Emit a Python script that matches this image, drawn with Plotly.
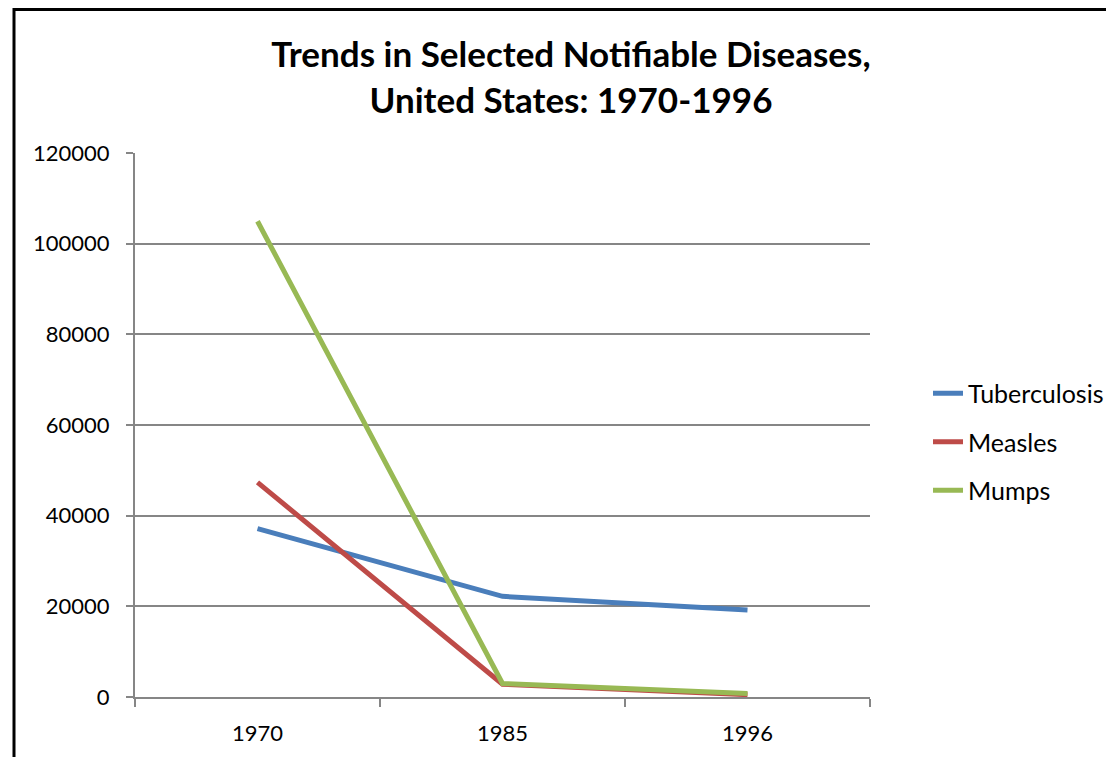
import plotly.graph_objects as go

years = ["1970", "1985", "1996"]
tuberculosis = [37137, 22201, 19200]
measles = [47351, 2822, 508]
mumps = [104953, 2982, 751]
y_ticks = [0, 20000, 40000, 60000, 80000, 100000, 120000]

series = [
    ("Tuberculosis", tuberculosis, "#4A7EBB"),
    ("Measles", measles, "#BE4B48"),
    ("Mumps", mumps, "#98B954"),
]

FONT = "Lato, Carlito, Calibri, sans-serif"

fig = go.Figure()
for name, vals, col in series:
    fig.add_trace(go.Scatter(x=years, y=vals, name=name, mode="lines", legendgroup=name,
                             line=dict(color=col, width=5)))

# page body has an 8px margin; figure coords = screen coords - 8
# figure is wider than the window (overflow hidden) so the legend fits in the right margin
W, H = 1140, 749
L, T = 127, 145
R = W - 862
B = H - 689
pw, ph = W - L - R, H - T - B

fig.update_layout(
    width=W, height=H,
    margin=dict(l=L, r=R, t=T, b=B, pad=0),
    paper_bgcolor="white", plot_bgcolor="white",
    font=dict(family=FONT, size=22, color="black"),
    title=dict(text="<b>Trends in Selected Notifiable Diseases,<br>United States: 1970-1996</b>",
               x=(563) / W, xanchor="center", y=1 - 59 / H, yanchor="middle",
               font=dict(family=FONT, size=35, color="black")),
    showlegend=True,
    legend=dict(x=(920 - L) / pw, xanchor="left", y=(689 - 434) / ph, yanchor="middle",
                font=dict(family=FONT, size=25), tracegroupgap=13, itemwidth=30,
                traceorder="grouped", bgcolor="rgba(0,0,0,0)"),
    xaxis=dict(type="category", range=[-0.5, 2.5], showgrid=False, showline=True,
               linecolor="#868686", linewidth=2, ticks="outside", tickson="boundaries",
               ticklen=8, tickwidth=2, tickcolor="#868686", zeroline=False,
               ticklabelstandoff=16),
    yaxis=dict(range=[0, 120000], tickvals=y_ticks, ticktext=[str(v) for v in y_ticks],
               showgrid=True, gridcolor="#868686", gridwidth=1.5, showline=True,
               linecolor="#868686", linewidth=2, ticks="outside", ticklen=7,
               tickwidth=2, tickcolor="#868686", zeroline=False, ticklabelstandoff=12),
    shapes=[dict(type="rect", xref="paper", yref="paper",
                 x0=(6 - L) / pw, x1=(1160 - L) / pw,
                 y0=(H - B - 790) / ph, y1=(H - B - 1.5) / ph,
                 line=dict(color="black", width=3), fillcolor="rgba(0,0,0,0)", layer="above")],
)

fig.write_html("out.html",
               post_script="document.body.style.overflow='hidden';"
                           "document.documentElement.style.overflow='hidden';")
